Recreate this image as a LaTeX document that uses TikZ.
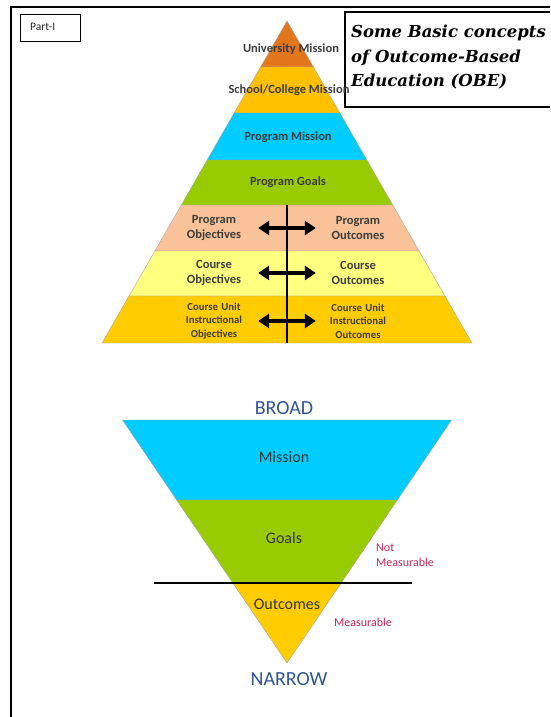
\documentclass[tikz,border=0pt]{standalone}
\usepackage{fontspec}
\setmainfont{Carlito}
\newfontfamily\titlefont{DejaVu Serif}
\usetikzlibrary{arrows.meta}

\definecolor{unicol}{RGB}{226,118,28}
\definecolor{schoolcol}{RGB}{255,192,0}
\definecolor{missioncol}{RGB}{0,204,255}
\definecolor{goalcol}{RGB}{153,204,0}
\definecolor{objcol}{RGB}{250,194,152}
\definecolor{coursecol}{RGB}{255,255,128}
\definecolor{unitcol}{RGB}{255,204,0}
\definecolor{broadcol}{RGB}{47,84,150}
\definecolor{meascol}{RGB}{192,40,90}
\definecolor{labelcol}{RGB}{60,60,60}

\tikzset{
  layer/.style={draw=gray!70, line width=0.4pt},
  toplabel/.style={font=\bfseries\fontsize{12.5}{14}\selectfont, text=labelcol, inner sep=0pt},
  sidelabel/.style={font=\bfseries\fontsize{12.5}{15}\selectfont, text=labelcol, align=center, text width=80pt, inner sep=0pt},
  unitlabel/.style={font=\bfseries\fontsize{10.7}{13.5}\selectfont, text=labelcol, align=center, text width=80pt, inner sep=0pt},
  bigarrow/.style={{Triangle[length=11pt,width=14pt]}-{Triangle[length=11pt,width=14pt]}, line width=3.5pt},
  lowlabel/.style={font=\fontsize{16}{18}\selectfont, text=black!80, inner sep=0pt},
  endlabel/.style={font=\fontsize{20}{22}\selectfont, text=broadcol, inner sep=0pt},
  measlabel/.style={font=\fontsize{12}{15}\selectfont, text=meascol, align=left, inner sep=0pt}
}

\begin{document}
\begin{tikzpicture}[x=1pt,y=-1pt]
  \useasboundingbox (0,0) rectangle (550,717);

  % frame and boxes
  \draw[line width=1.2pt] (11,717) -- (11,7) -- (550,7);
  \draw[line width=1.2pt] (550,12) -- (345,12) -- (345,107) -- (550,107);
  \draw[line width=1pt] (20,15) rectangle (80,42);
  \node[anchor=west, font=\fontsize{11.5}{13}\selectfont, text=black!85, inner sep=0pt] (part) at (30,27) {Part-I};
  \node[anchor=north west, align=left, font=\titlefont\bfseries\itshape\fontsize{16.5}{24.5}\selectfont, inner sep=0pt] (title) at (351,25)
    {Some Basic concepts\\of Outcome-Based\\Education (OBE)};

  % upper pyramid, apex (287,21), base y=343
  \foreach \ya/\yb/\col in {21/67/unicol, 67/113/schoolcol, 113/160/missioncol, 160/205/goalcol,
                            205/251/objcol, 251/296/coursecol, 296/343/unitcol}
    \filldraw[layer, fill=\col] ({287-(\ya-21)*0.5745},\ya) -- ({287+(\ya-21)*0.5745},\ya)
      -- ({287+(\yb-21)*0.5745},\yb) -- ({287-(\yb-21)*0.5745},\yb) -- cycle;
  \draw[line width=2pt] (287,205) -- (287,343);

  \node[toplabel] (unimis) at (291,49) {University Mission};
  \node[toplabel] (schmis) at (289,90) {School/College Mission};
  \node[toplabel] (progmis) at (288,137) {Program Mission};
  \node[toplabel] (proggoal) at (288,182) {Program Goals};

  \node[sidelabel] (progobj) at (214,228) {Program\\Objectives};
  \node[sidelabel] (progout) at (358,228) {Program\\Outcomes};
  \node[sidelabel] (courseobj) at (214,273) {Course\\Objectives};
  \node[sidelabel] (courseout) at (358,273) {Course\\Outcomes};
  \node[unitlabel] (unitobj) at (214,321) {Course Unit\\Instructional\\Objectives};
  \node[unitlabel] (unitout) at (358,321) {Course Unit\\Instructional\\Outcomes};

  \draw[bigarrow, shorten <=4pt, shorten >=2pt] (progobj.east) -- (progout.west);
  \draw[bigarrow, shorten <=4pt, shorten >=2pt] (courseobj.east) -- (courseout.west);
  \draw[bigarrow, shorten <=4pt, shorten >=2pt] (unitobj.east) -- (unitout.west);

  % lower pyramid, top y=420, apex (287,663)
  \foreach \ya/\yb/\col in {420/500/missioncol, 500/583/goalcol, 583/663/unitcol}
    \filldraw[layer, fill=\col] ({287-(663-\ya)*0.677},\ya) -- ({287+(663-\ya)*0.677},\ya)
      -- ({287+(663-\yb)*0.677},\yb) -- ({287-(663-\yb)*0.677},\yb) -- cycle;
  \draw[line width=2pt] (154,583) -- (412,583);

  \node[endlabel] (broad) at (284,408) {BROAD};
  \node[endlabel] (narrow) at (289,679) {NARROW};
  \node[lowlabel] (mission) at (284,457) {Mission};
  \node[lowlabel] (goals) at (284,538) {Goals};
  \node[lowlabel] (outcomes) at (287,604) {Outcomes};
  \node[measlabel, anchor=west] (notmeas) at (376,555) {Not\\Measurable};
  \node[measlabel, anchor=west] (meas) at (334,622) {Measurable};
\end{tikzpicture}
\end{document}
